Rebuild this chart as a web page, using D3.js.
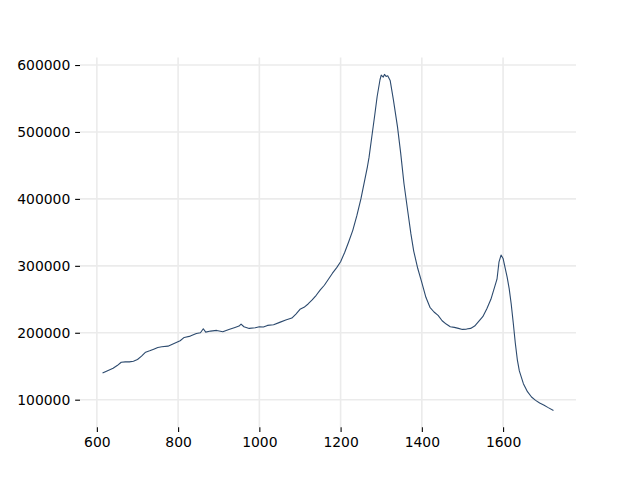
<!DOCTYPE html>
<html><head><meta charset="utf-8">
<script src="https://cdn.jsdelivr.net/npm/d3@7"></script>
<style>body{margin:0;background:#fff}svg{display:block}</style>
</head><body>
<script>
const wavenumber = [614,625,640,650,660,670,680,690,700,710,720,730,740,750,760,775,790,805,815,830,845,855,862,868,880,895,910,925,940,950,955,962,975,990,1000,1010,1020,1035,1050,1065,1080,1090,1100,1110,1120,1130,1140,1150,1160,1170,1180,1190,1200,1210,1220,1230,1240,1250,1260,1266,1270,1278,1284,1290,1297,1300,1305,1308,1312,1316,1322,1330,1340,1348,1356,1365,1373,1380,1390,1400,1410,1420,1430,1440,1450,1460,1470,1480,1490,1500,1510,1520,1530,1540,1550,1560,1570,1580,1585,1590,1595,1600,1605,1610,1615,1620,1625,1630,1635,1640,1650,1660,1670,1680,1690,1700,1710,1724];
const intensity = [140000,143000,147000,151000,156000,156500,156500,157500,160000,165000,171000,173000,175500,178000,179000,180000,184000,188000,193000,195000,199000,200000,206000,201000,202500,203500,201500,205000,208000,210000,213000,209000,206500,207500,209000,208500,211000,212000,215500,219000,222000,228000,235000,238000,243000,249000,256000,264000,271000,280000,289000,297000,306000,320000,336000,353000,375000,400000,430000,448000,462000,498000,525000,553000,578000,585000,582000,586000,583000,584000,577000,548000,508000,468000,423000,383000,348000,322000,296000,275000,253000,238000,231000,226000,218000,213000,209000,208000,206500,205000,205500,206500,210000,217000,224000,236000,250000,270000,280000,306000,316000,311000,297000,283000,266000,243000,215000,185000,160000,143000,124000,112000,104000,99000,95000,92000,88500,84000];
const xTicks = [600,800,1000,1200,1400,1600];
const yTicks = [100000,200000,300000,400000,500000,600000];

const W=640,H=480;
const mLeft=80,mRight=576,mTop=57.6,mBottom=427.2;
const svg=d3.select("body").append("svg").attr("width",W).attr("height",H);

const xmin=d3.min(wavenumber),xmax=d3.max(wavenumber);
const ymin=d3.min(intensity),ymax=d3.max(intensity);
const xm=(xmax-xmin)*0.05, ym=(ymax-ymin)*0.05;
const x=d3.scaleLinear().domain([xmin-xm,xmax+xm]).range([mLeft,mRight]);
const y=d3.scaleLinear().domain([ymin-ym,ymax+ym]).range([mBottom,mTop]);

// grid
const g=svg.append("g");
g.selectAll(".gx").data(xTicks).join("line")
 .attr("x1",d=>x(d)).attr("x2",d=>x(d)).attr("y1",mTop).attr("y2",mBottom)
 .attr("stroke","#ebebeb").attr("stroke-width",1.6);
g.selectAll(".gy").data(yTicks).join("line")
 .attr("x1",mLeft).attr("x2",mRight).attr("y1",d=>y(d)).attr("y2",d=>y(d))
 .attr("stroke","#ebebeb").attr("stroke-width",1.6);

// axes
const fs="13.9px";
const xa=svg.append("g").attr("transform",`translate(0,${mBottom})`)
 .call(d3.axisBottom(x).tickValues(xTicks).tickSize(4.86).tickPadding(4.86).tickFormat(d3.format("d")));
const ya=svg.append("g").attr("transform",`translate(${mLeft},0)`)
 .call(d3.axisLeft(y).tickValues(yTicks).tickSize(4.86).tickPadding(4.86).tickFormat(d3.format("d")));
[xa,ya].forEach(a=>{
 a.select(".domain").remove();
 a.selectAll("line").attr("stroke","#000").attr("stroke-width",1.1);
 a.selectAll("text").attr("font-family","DejaVu Sans").attr("font-size",fs).attr("fill","#000");
});

// line
const line=d3.line().x((d,i)=>x(wavenumber[i])).y(d=>y(d));
svg.append("path").datum(intensity).attr("d",line)
 .attr("fill","none").attr("stroke","#2c4a6e").attr("stroke-width",1.1).attr("stroke-linejoin","round");
</script>
</body></html>
